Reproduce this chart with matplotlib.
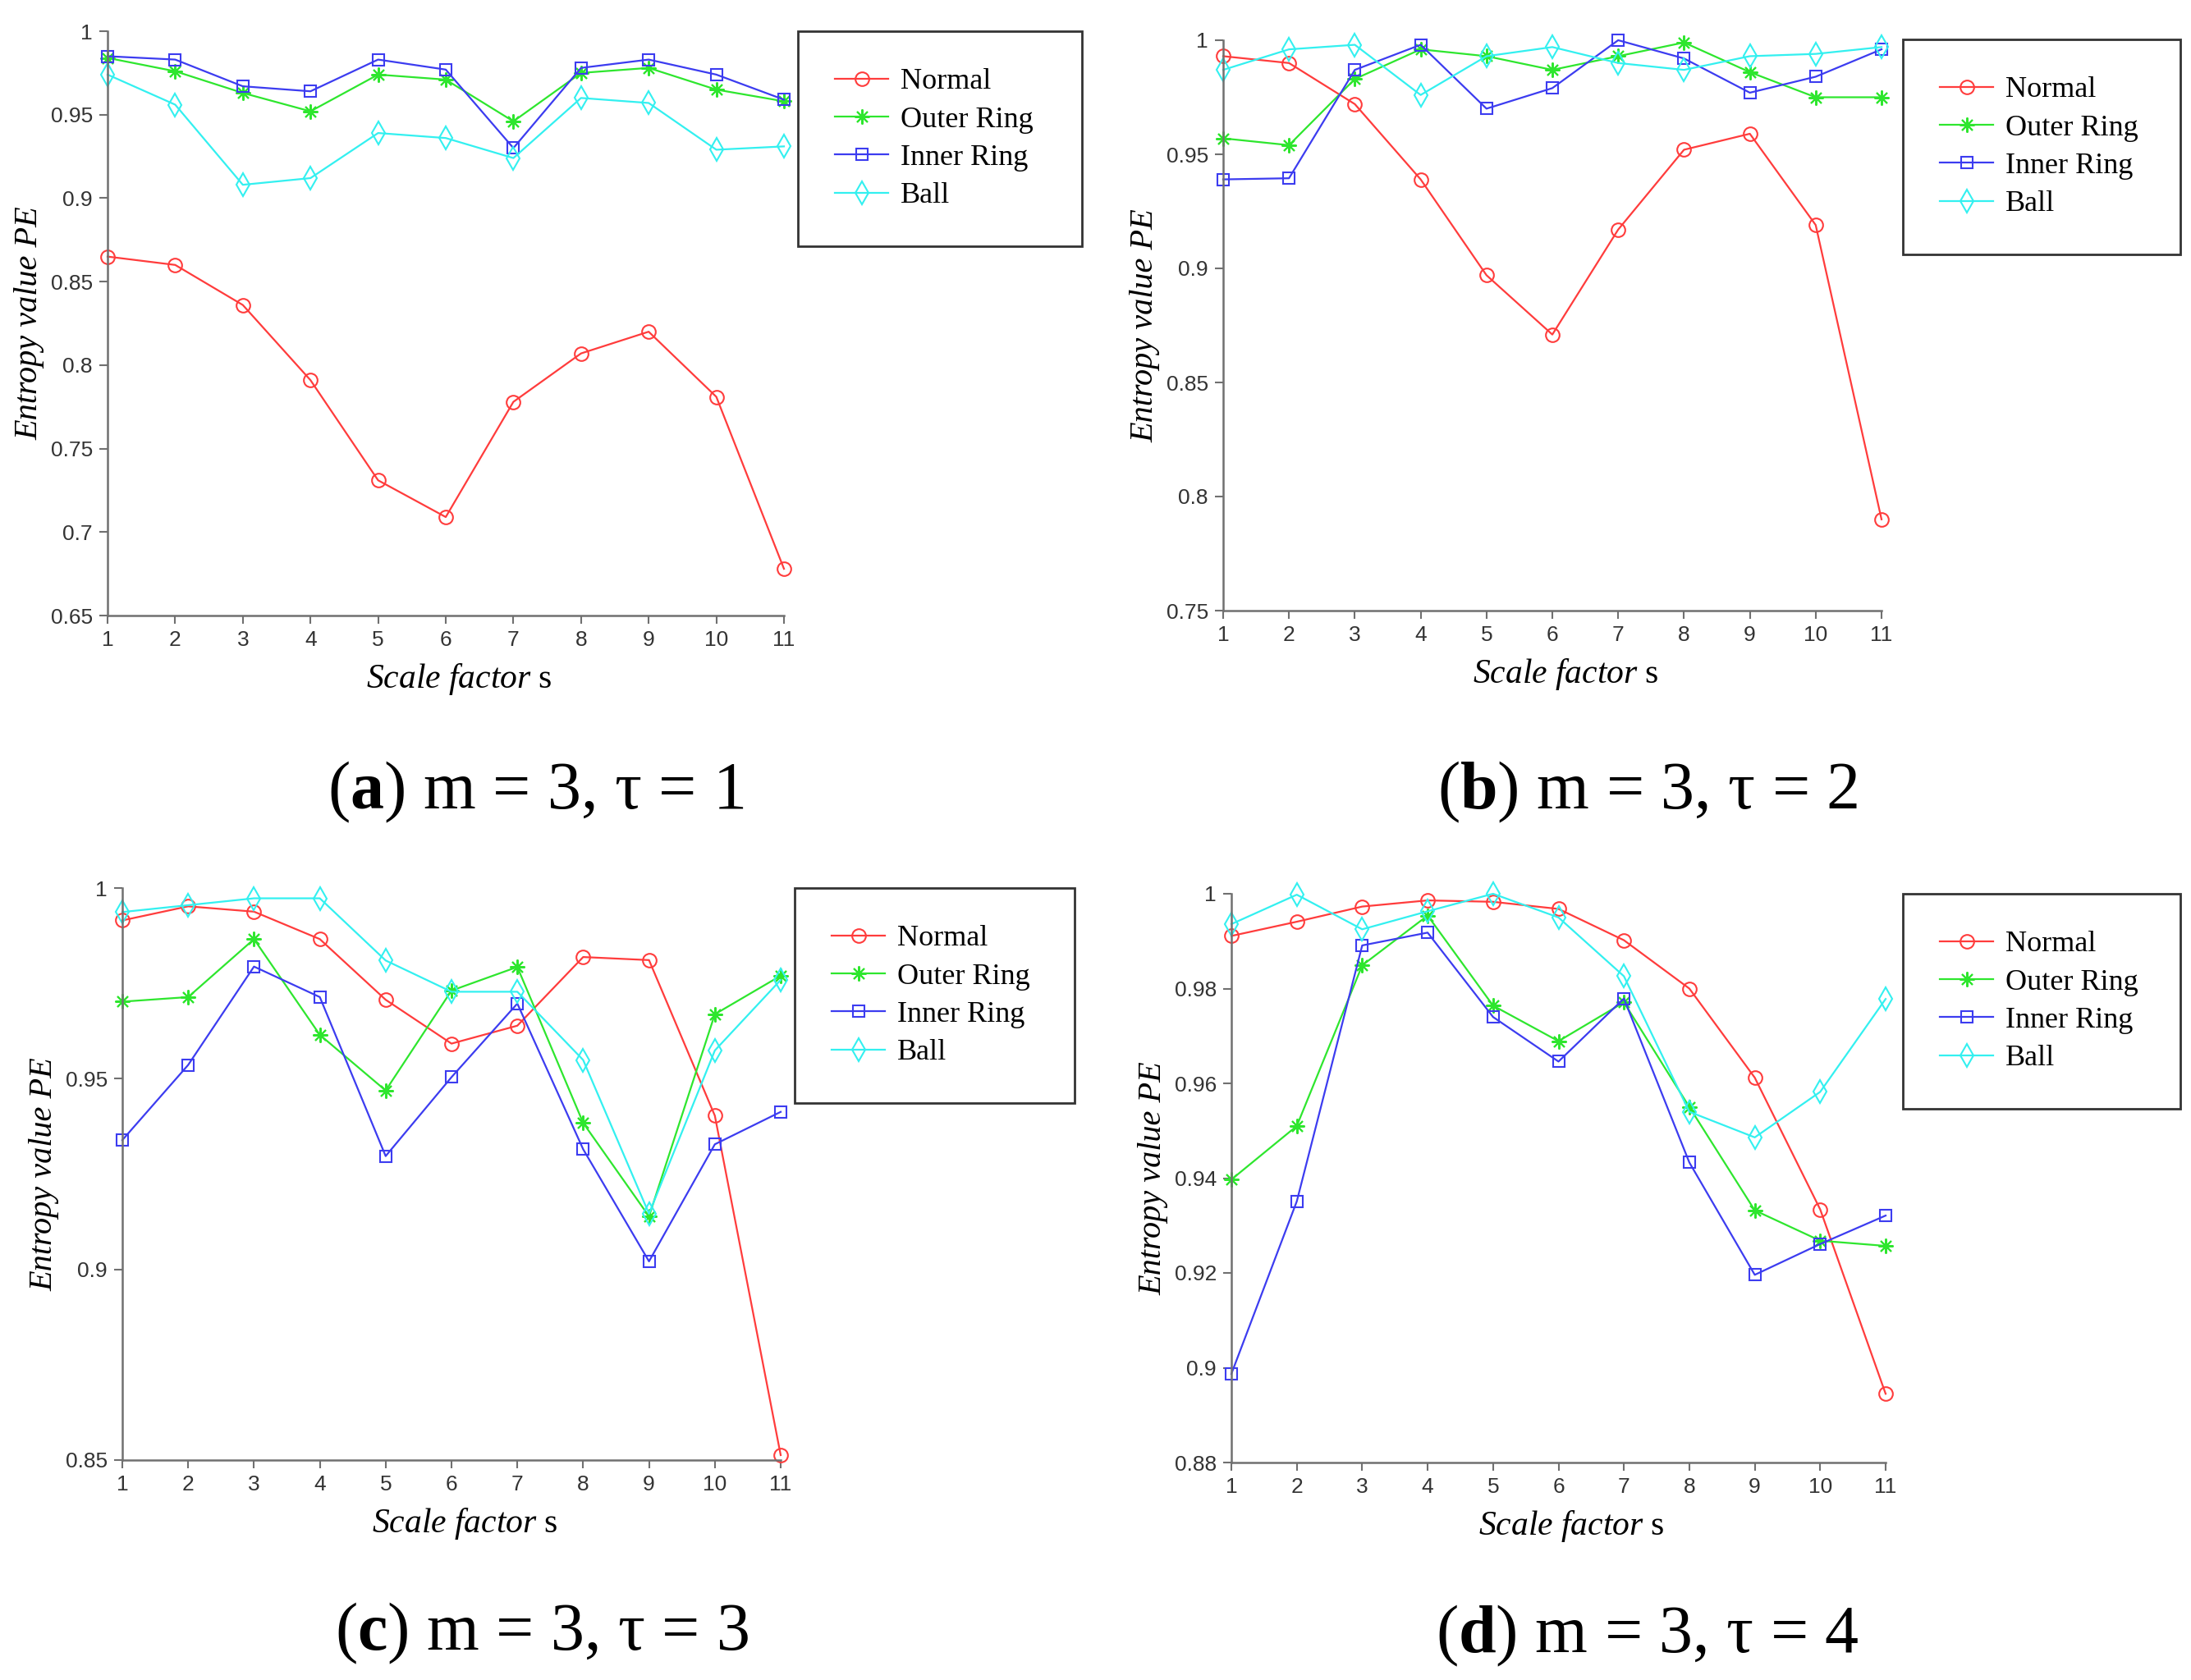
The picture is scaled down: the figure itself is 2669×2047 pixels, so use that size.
import matplotlib
matplotlib.use("Agg")
import matplotlib.pyplot as plt
from matplotlib.ticker import FuncFormatter

plt.rcParams["mathtext.fontset"] = "custom"
plt.rcParams["mathtext.rm"] = "Liberation Serif"
plt.rcParams["mathtext.it"] = "Liberation Serif:italic"
plt.rcParams["mathtext.bf"] = "Liberation Serif:bold"

scales = list(range(1, 12))
series_names = ["Normal", "Outer Ring", "Inner Ring", "Ball"]

# (a) m = 3, tau = 1
a_normal = [0.865, 0.860, 0.836, 0.791, 0.731, 0.709, 0.778, 0.807, 0.820, 0.781, 0.678]
a_outer = [0.984, 0.976, 0.963, 0.952, 0.974, 0.971, 0.946, 0.975, 0.978, 0.965, 0.958]
a_inner = [0.985, 0.983, 0.967, 0.964, 0.983, 0.977, 0.930, 0.978, 0.983, 0.974, 0.959]
a_ball = [0.974, 0.956, 0.908, 0.912, 0.939, 0.936, 0.924, 0.960, 0.957, 0.929, 0.931]

# (b) m = 3, tau = 2
b_normal = [0.993, 0.990, 0.972, 0.939, 0.897, 0.871, 0.917, 0.952, 0.959, 0.919, 0.790]
b_outer = [0.957, 0.954, 0.983, 0.996, 0.993, 0.987, 0.993, 0.999, 0.986, 0.975, 0.975]
b_inner = [0.939, 0.9395, 0.987, 0.998, 0.970, 0.979, 1.000, 0.992, 0.977, 0.984, 0.996]
b_ball = [0.987, 0.996, 0.998, 0.976, 0.993, 0.997, 0.990, 0.987, 0.993, 0.994, 0.997]

# (c) m = 3, tau = 3
c_normal = [0.9915, 0.9952, 0.9938, 0.9866, 0.9707, 0.9592, 0.9639, 0.9819, 0.9811, 0.9403, 0.8513]
c_outer = [0.9702, 0.9714, 0.9866, 0.9615, 0.9469, 0.9731, 0.9793, 0.9384, 0.9139, 0.9669, 0.9770]
c_inner = [0.9339, 0.9536, 0.9794, 0.9714, 0.9297, 0.9504, 0.9697, 0.9315, 0.9021, 0.9328, 0.9413]
c_ball = [0.9937, 0.9955, 0.9973, 0.9973, 0.9810, 0.9728, 0.9728, 0.9549, 0.9146, 0.9574, 0.9759]

# (d) m = 3, tau = 4
d_normal = [0.9911, 0.9941, 0.9973, 0.9986, 0.9983, 0.9968, 0.9902, 0.9800, 0.9612, 0.9334, 0.8945]
d_outer = [0.9397, 0.9510, 0.9849, 0.9954, 0.9764, 0.9689, 0.9771, 0.9550, 0.9332, 0.9268, 0.9257]
d_inner = [0.8987, 0.9351, 0.9891, 0.9918, 0.9740, 0.9646, 0.9779, 0.9433, 0.9196, 0.9261, 0.9321]
d_ball = [0.9936, 0.9998, 0.9925, 0.9963, 1.0000, 0.9950, 0.9826, 0.9540, 0.9486, 0.9582, 0.9778]

captions = [r"($\mathbf{a}$) m = 3, τ = 1", r"($\mathbf{b}$) m = 3, τ = 2",
            r"($\mathbf{c}$) m = 3, τ = 3", r"($\mathbf{d}$) m = 3, τ = 4"]
y_ranges = [(0.65, 1.0, 0.05), (0.75, 1.0, 0.05), (0.85, 1.0, 0.05), (0.88, 1.0, 0.02)]
panels = [(a_normal, a_outer, a_inner, a_ball), (b_normal, b_outer, b_inner, b_ball),
          (c_normal, c_outer, c_inner, c_ball), (d_normal, d_outer, d_inner, d_ball)]

colors = ["#ff3c3c", "#2ee62e", "#3c3cf0", "#33f0f0"]
markers = ["o", (8, 2, 0), "s", "d"]
msizes = [12, 13, 10, 14]

W, H = 2669, 2047
# axes boxes in pixels: left, right, top, bottom
boxes = [(131, 955, 38, 750), (1490, 2292, 49, 744),
         (149, 951, 1082, 1779), (1500, 2297, 1089, 1782)]
# legend boxes in pixels: left, top, width, height
legends = [(972, 38, 346, 262), (2318, 48, 338, 256),
           (968, 1082, 341, 258), (2318, 1089, 338, 256)]
cap_pos = [(653, 965), (2007, 965), (660, 1990), (2007, 1993)]

serif = ["Liberation Serif", "DejaVu Serif"]
narrow = ["Liberation Sans Narrow", "Liberation Sans", "DejaVu Sans"]

fig = plt.figure(figsize=(W / 100, H / 100), dpi=100)

for k, data in enumerate(panels):
    l, r, t, b = boxes[k]
    ax = fig.add_axes([l / W, 1 - b / H, (r - l) / W, (b - t) / H])
    for vals, name, c, m, ms in zip(data, series_names, colors, markers, msizes):
        ax.plot(scales, vals, color=c, marker=m, markersize=ms, markerfacecolor="none",
                markeredgecolor=c, markeredgewidth=1.5, linewidth=1.6, label=name,
                clip_on=False)
    lo, hi, step = y_ranges[k]
    n = int(round((hi - lo) / step))
    ax.set_ylim(lo, hi)
    ax.set_yticks([lo + i * step for i in range(n + 1)])
    ax.yaxis.set_major_formatter(FuncFormatter(lambda v, p: "%g" % round(v, 3)))
    ax.set_xlim(1, 11)
    ax.set_xticks(scales)
    ax.spines[["top", "right"]].set_visible(False)
    for s in ("left", "bottom"):
        ax.spines[s].set_color("#707070")
        ax.spines[s].set_linewidth(1.8)
    ax.tick_params(direction="out", length=7, width=1.5, color="#707070",
                   labelcolor="#333333", labelsize=19, pad=6)
    for lab in ax.get_xticklabels() + ax.get_yticklabels():
        lab.set_family(narrow)
    ax.set_xlabel(r"$\mathit{Scale\ factor}$ s", fontsize=30, family=serif)
    ax.xaxis.set_label_coords(0.52, -56 / (b - t))
    ax.set_ylabel("Entropy value PE", fontsize=29, family=serif, style="italic", labelpad=5)

    lx, ly, lw, lh = legends[k]
    leg = ax.legend(loc="upper left",
                    bbox_to_anchor=(lx / W, 1 - (ly + lh) / H, lw / W, lh / H),
                    bbox_transform=fig.transFigure, mode="expand",
                    prop={"family": serif, "size": 26},
                    fancybox=False, framealpha=1, edgecolor="#333333", borderpad=1.25,
                    labelspacing=0.36, handlelength=1.8, handletextpad=0.4,
                    borderaxespad=0)
    leg.get_frame().set_linewidth(2)

    cx, cy = cap_pos[k]
    fig.text(cx / W, 1 - cy / H, captions[k], ha="center", va="center",
             fontsize=59, family=serif)

fig.savefig("out.png", dpi=100)
